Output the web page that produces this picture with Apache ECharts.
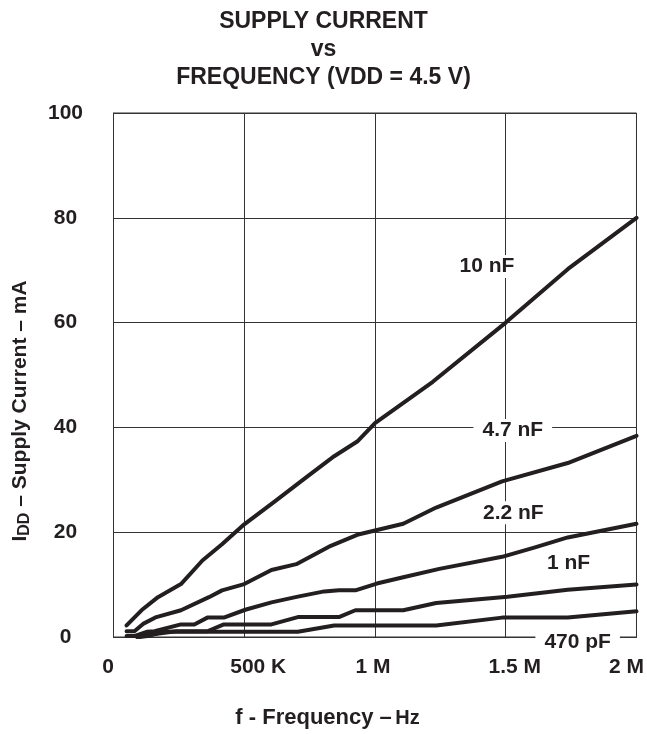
<!DOCTYPE html>
<html><head><meta charset="utf-8">
<script src="https://cdn.jsdelivr.net/npm/echarts@6/dist/echarts.min.js"></script>
<style>html,body{margin:0;padding:0;background:#fff}#c{width:647px;height:734px}</style>
</head><body><div id="c"></div>
<script>
// frequency in Hz, current in mA
const freq10nF = [50e3,107e3,170e3,258e3,340e3,415e3,500e3,617e3,743e3,844e3,932e3,1000e3,1221e3,1500e3,1737e3,2000e3];
const cur10nF  = [2.2,5.1,7.6,10.1,14.6,17.7,21.5,25.9,30.7,34.5,37.3,40.8,48.7,60,70.2,80];
const freq4n7F = [50e3,80e3,113e3,164e3,258e3,365e3,415e3,500e3,604e3,699e3,831e3,932e3,1108e3,1234e3,1486e3,1737e3,2000e3];
const cur4n7F  = [1.1,1.1,2.5,3.8,5.1,7.6,8.9,10.1,12.8,13.9,17.4,19.5,21.6,24.7,29.7,33.2,38.4];
const freq2n2F = [50e3,82e3,127e3,157e3,258e3,309e3,359e3,422e3,504e3,604e3,705e3,806e3,862e3,925e3,1007e3,1108e3,1246e3,1486e3,1612e3,1737e3,2000e3];
const cur2n2F  = [0.2,0.2,1.0,1.1,2.4,2.4,3.7,3.7,5.2,6.6,7.7,8.7,8.9,8.9,10.2,11.4,13.0,15.3,17.1,19.0,21.6];
const freq1nF  = [90e3,130e3,239e3,359e3,422e3,604e3,705e3,862e3,925e3,1108e3,1234e3,1507e3,1737e3,2000e3];
const cur1nF   = [0,0.4,1.1,1.1,2.4,2.4,3.8,3.8,5.1,5.1,6.5,7.7,9.0,10.0];
const freq470pF = [100e3,130e3,189e3,705e3,844e3,1234e3,1486e3,1737e3,2000e3];
const cur470pF  = [0,0.2,1.0,1.0,2.2,2.2,3.7,3.7,4.9];

const curveLabelNames = ['10 nF','4.7 nF','2.2 nF','1 nF','470 pF'];
const curveLabelFreq = [1428e3,1527e3,1529e3,1740e3,1775e3];
const curveLabelCurrent = [70.7,39.4,23.7,14.1,-1.0];

const xTickValues = [0,500e3,1000e3,1500e3,2000e3];
const xTickLabels = ['0','500 K','1 M','1.5 M','2 M'];
const yTicks = [0,20,40,60,80,100];

const titleText = 'SUPPLY CURRENT\nvs\nFREQUENCY (VDD = 4.5 V)';

const zip = (a,b) => a.map((v,i)=>[v,b[i]]);
const FONT = "'Liberation Sans', Arial, sans-serif";
const INK = '#231f20';

const curves = [
  {name:'10 nF', d: zip(freq10nF, cur10nF)},
  {name:'4.7 nF', d: zip(freq4n7F, cur4n7F)},
  {name:'2.2 nF', d: zip(freq2n2F, cur2n2F)},
  {name:'1 nF', d: zip(freq1nF, cur1nF)},
  {name:'470 pF', d: zip(freq470pF, cur470pF)}
];

const chart = echarts.init(document.getElementById('c'), null, {renderer:'canvas'});
const series = curves.map(c => ({
  type:'line', name:c.name, data:c.d, showSymbol:false, symbol:'none',
  lineStyle:{color:INK, width:4, join:'round', cap:'round'}, z:3, animation:false
}));
series.push({
  type:'scatter', name:'labels', symbolSize:0, clip:false, z:5, animation:false, silent:true,
  itemStyle:{opacity:1},
  data: curveLabelNames.map((n,i)=>({value:[curveLabelFreq[i], curveLabelCurrent[i]], name:n})),
  label:{show:true, position:'inside', formatter:p=>p.name, color:INK, opacity:1, fontFamily:FONT,
    fontWeight:'bold', fontSize:21, backgroundColor:'#fff', padding:[1,9,1,9]}
});

const tickStyle = {fontFamily:FONT, fontWeight:'bold', fontSize:21, color:INK};
chart.setOption({
  animation:false,
  backgroundColor:'#fff',
  title:{text:titleText, left:'center', top:3,
    textStyle:{fontFamily:FONT, fontWeight:'bold', fontSize:23, lineHeight:28, color:INK}},
  grid:{left:110, right:7, top:113, bottom:94, show:true, borderColor:'#333', borderWidth:1, containLabel:false},
  xAxis:{type:'value', min:0, max:2e6, interval:5e5,
    axisLine:{show:true, lineStyle:{color:'#333', width:1}}, axisTick:{show:false},
    splitLine:{show:true, lineStyle:{color:'#333', width:1}},
    axisLabel:{margin:20, color:INK, fontFamily:FONT, fontWeight:'bold', fontSize:21,
      alignMinLabel:'center', alignMaxLabel:'center',
      rich:{
        t0:Object.assign({padding:[0,11,0,0]}, tickStyle),
        t1:Object.assign({padding:[0,0,0,28]}, tickStyle),
        t2:Object.assign({padding:[0,4,0,0]}, tickStyle),
        t3:Object.assign({padding:[0,0,0,18]}, tickStyle),
        t4:Object.assign({padding:[0,20,0,0]}, tickStyle)
      },
      formatter:v=>{const i=xTickValues.indexOf(v); return i>=0?('{t'+i+'|'+xTickLabels[i]+'}'):'';}},
    name:'{a|f - Frequency –} {b|Hz}', nameLocation:'middle', nameGap:70,
    nameTextStyle:{padding:[0,95,0,0], rich:{
      a:{fontFamily:FONT, fontWeight:'bold', fontSize:22, color:INK},
      b:{fontFamily:FONT, fontWeight:'bold', fontSize:20, color:INK}}}
  },
  yAxis:{type:'value', min:0, max:100, interval:20,
    axisLine:{show:true, lineStyle:{color:'#333', width:1}}, axisTick:{show:false},
    splitLine:{show:true, lineStyle:{color:'#333', width:1}},
    axisLabel:{margin:48, align:'center', color:INK, fontFamily:FONT, fontWeight:'bold', fontSize:21,
      formatter:v=>yTicks.indexOf(v)>=0?String(v):''},
    name:'{a|I}{s|DD}{a| – Supply Current – mA}', nameLocation:'middle', nameGap:80,
    nameTextStyle:{padding:[0,72,0,0], rich:{
      a:{fontFamily:FONT, fontWeight:'bold', fontSize:21, color:INK, lineHeight:26},
      s:{fontFamily:FONT, fontWeight:'bold', fontSize:16, color:INK, lineHeight:26, padding:[9,0,0,0]}}}
  },
  series:series
});
</script></body></html>
